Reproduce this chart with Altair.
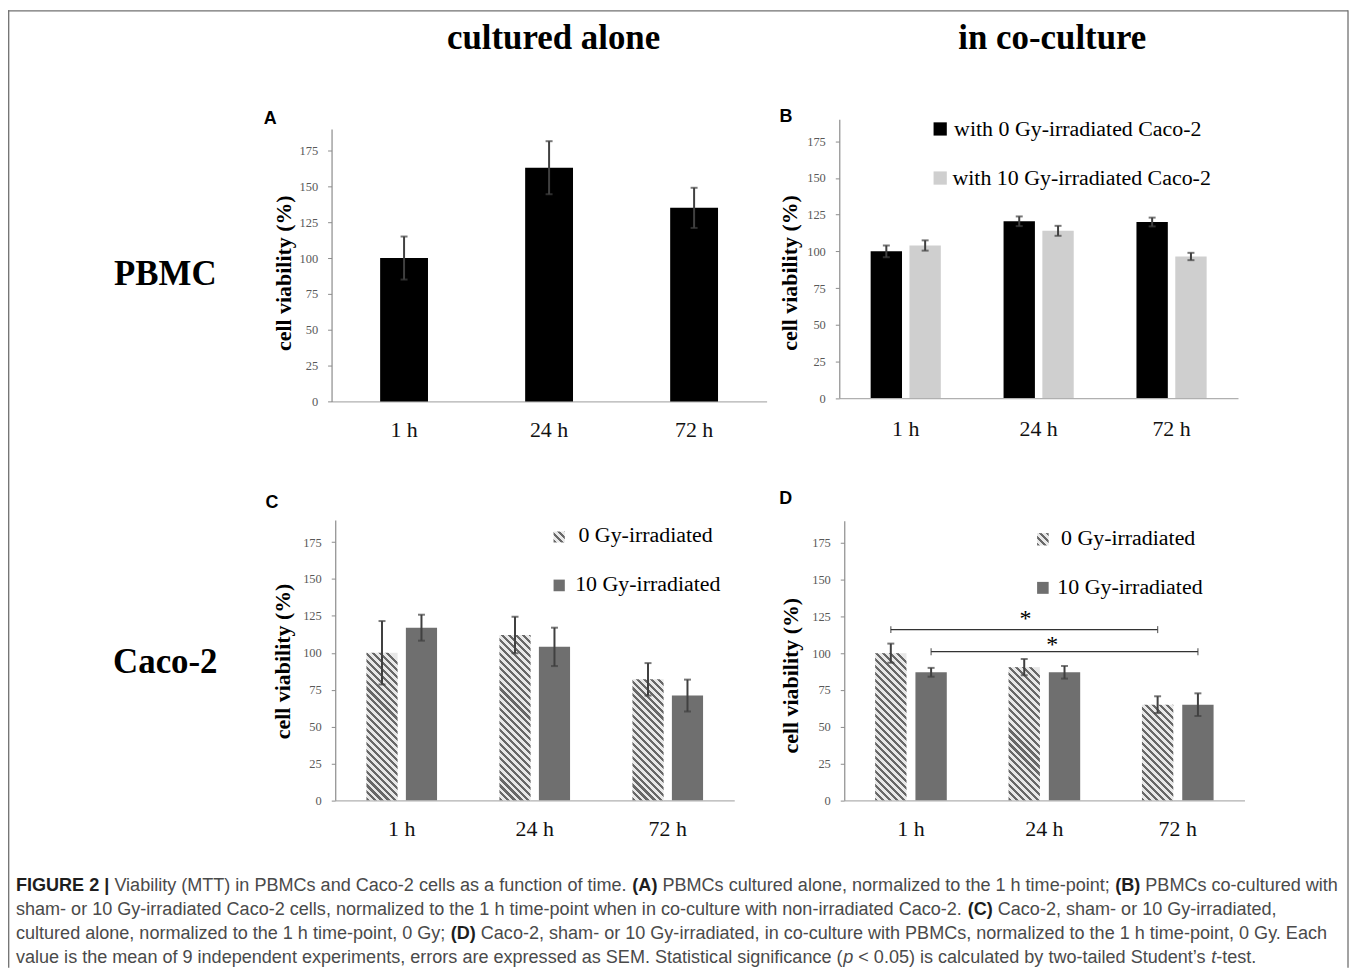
import math
import altair as alt
import pandas as pd

# ---------------- data ----------------
times = ["1 h", "24 h", "72 h"]
groups = ["0 Gy", "10 Gy"]

a_mean = [100, 163, 135]
a_sem = [15, 18.5, 14]

b_0gy = [100, 120.5, 120]
b_0gy_sem = [4, 3.3, 3]
b_10gy = [104, 114, 96.5]
b_10gy_sem = [3.5, 3.4, 2.5]

c_0gy = [100, 112, 82]
c_0gy_sem = [21.5, 12.4, 11]
c_10gy = [117, 104, 71]
c_10gy_sem = [8.8, 13, 10.8]

d_0gy = [100, 90.5, 65]
d_0gy_sem = [6.5, 5.5, 5.7]
d_10gy = [87, 87, 65]
d_10gy_sem = [3, 4.3, 7.7]

sig_group = ["0 Gy", "10 Gy"]
sig_from = ["1 h", "1 h"]
sig_to = ["72 h", "72 h"]
sig_level = [116, 101]
star_level = [125.6, 108]

y_ticks = [0, 25, 50, 75, 100, 125, 150, 175]
Y_MAX = 190

# ---------------- styling ----------------
W, H = 1348, 962
SERIF = "Liberation Serif"
SANS = "Liberation Sans"
ERR = "#404040"
YAX = "#8c8c8c"
XAX = "#b0b0b0"
BLACK = "#000000"
LIGHT = "#cfcfcf"
DARK = "#6f6f6f"
HATCH_LIGHT = "#e8e8e8"
HATCH_DARK = "#686868"
TILE_MULT = 2          # tile height = TILE_MULT * bar width
STRIPES_PER_TILE = 9   # stripes crossing one tile height (4.5 per bar width)

GEOM = {
    "A": dict(xr=[325, 762], y0=393, k=1.44, pi=0.67, op=None, pad=18, tdx=-48.5, ty=263.7),
    "B": dict(xr=[835, 1235.5], y0=389.7, k=1.474, pi=0.472, op=0.192, pad=21, tdx=-50, ty=263.5),
    "C": dict(xr=[328.7, 729.5], y0=793.7, k=1.482, pi=0.469, op=0.21, pad=18, tdx=-53, ty=653.7),
    "D": dict(xr=[840, 1242], y0=793.7, k=1.478, pi=0.463, op=0.222, pad=18, tdx=-54, ty=668),
}


def frame(series):
    rows = []
    for g, means, sems in series:
        for t, m, s in zip(times, means, sems):
            rows.append({"time": t, "group": g, "mean": m, "lo": m - s, "hi": m + s})
    return pd.DataFrame(rows)


def widths(g):
    step = (g["xr"][1] - g["xr"][0]) / len(times)
    gbw = step * (1 - g["pi"])
    if g["op"] is None:
        return gbw, 0.0
    ostep = gbw / (2 - g["op"])
    return ostep * (1 - g["op"]), ostep / 2


def xscale(g):
    return alt.Scale(range=g["xr"], paddingInner=g["pi"], paddingOuter=g["pi"] / 2)


def yscale(g):
    return alt.Scale(domain=[0, Y_MAX], range=[g["y0"], g["y0"] - Y_MAX * g["k"]], nice=False, zero=True)


def x_axis(g):
    return alt.Axis(orient="bottom", offset=g["y0"] - H, ticks=False, tickSize=0,
                    labelPadding=g["pad"], labelFont=SERIF, labelFontSize=22,
                    labelColor="#111111", labelAngle=0, domainColor=XAX,
                    domainWidth=1.2, grid=False, title=None)


def y_axis(g):
    return alt.Axis(orient="left", offset=-g["xr"][0], values=y_ticks, tickSize=4,
                    tickColor=YAX, domainColor=YAX, domainWidth=1.2, labelPadding=10,
                    labelFont=SERIF, labelFontSize=12.5, labelColor="#595959", grid=False,
                    title="cell viability (%)", titleFont=SERIF, titleFontSize=22,
                    titleFontWeight="bold", titleColor="#000000", titleAngle=270,
                    titleX=g["tdx"], titleY=g["ty"], titleAlign="center",
                    titleBaseline="middle")


def x_enc(g, field="time"):
    return alt.X(f"{field}:N", sort=times, title=None, scale=xscale(g), axis=x_axis(g))


def y_enc(g, field="mean"):
    return alt.Y(f"{field}:Q", title="cell viability (%)", scale=yscale(g), axis=y_axis(g))


def xoff(g):
    return alt.XOffset("group:N", sort=groups,
                       scale=alt.Scale(paddingInner=g["op"], paddingOuter=0))


def hatch(w, h, period, frac=0.45):
    # diagonal "\" stripes as a hard-stop linear gradient in bounding-box units,
    # phase anchored at the bottom-left corner of the rectangle
    n = (w * w + h * h) / (w * period)
    stops = []
    i = 0
    while i / n < 1:
        a = i / n
        b = min((i + frac) / n, 1)
        c = min((i + 1) / n, 1)
        stops += [{"offset": a, "color": HATCH_DARK}, {"offset": b, "color": HATCH_DARK},
                  {"offset": b, "color": HATCH_LIGHT}, {"offset": c, "color": HATCH_LIGHT}]
        i += 1
    return {"gradient": "linear", "x1": 0, "y1": 1, "x2": 1, "y2": 1 - h / w, "stops": stops}


def error_layers(df, g, grouped):
    enc = {"x": x_enc(g)}
    if grouped:
        enc["xOffset"] = xoff(g)
    rule = alt.Chart(df).mark_rule(color=ERR, strokeWidth=2).encode(
        y=y_enc(g, "lo"), y2="hi", **enc)
    lo = alt.Chart(df).mark_tick(color=ERR, thickness=2, size=7, orient="horizontal").encode(
        y=y_enc(g, "lo"), **enc)
    hi = alt.Chart(df).mark_tick(color=ERR, thickness=2, size=7, orient="horizontal").encode(
        y=y_enc(g, "hi"), **enc)
    return [rule, lo, hi]


# ---------------- panel A ----------------
gA = GEOM["A"]
df_a = frame([("all", a_mean, a_sem)])
panel_a = alt.layer(
    alt.Chart(df_a).mark_bar(color=BLACK).encode(x=x_enc(gA), y=y_enc(gA)),
    *error_layers(df_a, gA, False),
)


# ---------------- grouped panels ----------------
def hatched_layers(g, means):
    """Hatched bars built as a stack of tiles (each bar still spans 0..mean)."""
    w, _ = widths(g)
    tile_px = TILE_MULT * w
    period = tile_px / STRIPES_PER_TILE
    tile = tile_px / g["k"]      # tile height in data units
    eps_px = 0.7
    eps = eps_px / g["k"]        # small overlap to hide seams
    rows = []
    for t, m in zip(times, means):
        j = 0
        while j * tile < m - 1e-9:
            top = min((j + 1) * tile, m)
            last = top >= m - 1e-9
            rows.append({"time": t, "group": groups[0], "t_lo": j * tile,
                         "t_hi": top if last else top + eps, "last": last,
                         "hpx": (top - j * tile) * g["k"]})
            j += 1
    tiles = pd.DataFrame(rows)
    enc = dict(x=x_enc(g), xOffset=xoff(g), y=y_enc(g, "t_lo"), y2="t_hi")
    out = []
    if (~tiles["last"]).any():
        out.append(alt.Chart(tiles).transform_filter(alt.datum.last == False).mark_bar(
            fill=hatch(w, tile_px + eps_px, period), strokeWidth=0).encode(**enc))
    for t in times:
        hp = float(tiles[(tiles.time == t) & (tiles["last"])]["hpx"].iloc[0])
        out.append(alt.Chart(tiles).transform_filter(
            (alt.datum.last == True) & (alt.datum.time == t)
        ).mark_bar(fill=hatch(w, hp, period), strokeWidth=0).encode(**enc))
    return out


def grouped_panel(key, s0, s0e, s1, s1e, col0, col1, hatched):
    g = GEOM[key]
    df = frame([(groups[0], s0, s0e), (groups[1], s1, s1e)])
    layers = []
    if hatched:
        layers += hatched_layers(g, s0)
    else:
        layers.append(
            alt.Chart(df).transform_filter(alt.datum.group == groups[0]).mark_bar(color=col0).encode(
                x=x_enc(g), y=y_enc(g), xOffset=xoff(g))
        )
    layers.append(
        alt.Chart(df).transform_filter(alt.datum.group == groups[1]).mark_bar(color=col1).encode(
            x=x_enc(g), y=y_enc(g), xOffset=xoff(g))
    )
    layers += error_layers(df, g, True)
    return layers, g


b_layers, gB = grouped_panel("B", b_0gy, b_0gy_sem, b_10gy, b_10gy_sem, BLACK, LIGHT, False)
c_layers, gC = grouped_panel("C", c_0gy, c_0gy_sem, c_10gy, c_10gy_sem, None, DARK, True)
d_layers, gD = grouped_panel("D", d_0gy, d_0gy_sem, d_10gy, d_10gy_sem, None, DARK, True)

# significance brackets in panel D
_, off_d = widths(gD)
for grp, t1, t2, lev, star, sdx in zip(sig_group, sig_from, sig_to, sig_level, star_level, [-19, 8]):
    o = -off_d if grp == groups[0] else off_d
    sdf = pd.DataFrame({"t1": [t1], "t2": [t2], "level": [lev], "star": [star], "mid": ["24 h"]})
    d_layers.append(alt.Chart(sdf).mark_rule(color="#333333", strokeWidth=1.3, xOffset=o, x2Offset=o).encode(
        x=x_enc(gD, "t1"), x2="t2", y=y_enc(gD, "level")))
    for col in ["t1", "t2"]:
        d_layers.append(alt.Chart(sdf).mark_tick(color="#333333", thickness=1.3, size=7,
                                                 orient="vertical", xOffset=o).encode(
            x=x_enc(gD, col), y=y_enc(gD, "level")))
    d_layers.append(alt.Chart(sdf).mark_text(text="*", font=SERIF, fontSize=24, color="#000000",
                                             dx=sdx, dy=11, baseline="alphabetic").encode(
        x=x_enc(gD, "mid"), y=y_enc(gD, "star")))

panel_b = alt.layer(*b_layers)
panel_c = alt.layer(*c_layers)
panel_d = alt.layer(*d_layers)


# ---------------- annotations ----------------
def txt(s, x, y, size, font=SERIF, weight="normal", color="#000000", align="left",
        baseline="alphabetic", style="normal"):
    return alt.Chart(pd.DataFrame({"t": [s]})).mark_text(
        font=font, fontSize=size, fontWeight=weight, color=color, align=align,
        baseline=baseline, fontStyle=style).encode(text="t:N", x=alt.value(x), y=alt.value(y))


def box(x1, x2, y1, y2, fill):
    return alt.Chart(pd.DataFrame({"t": [0]})).mark_rect(fill=fill, strokeWidth=0).encode(
        x=alt.value(x1), x2=alt.value(x2), y=alt.value(y1), y2=alt.value(y2))


ann = [
    txt("cultured alone", 548, 39, 35, weight="bold", align="center"),
    txt("in co-culture", 1049, 39, 35, weight="bold", align="center"),
    txt("PBMC", 158, 276, 35, weight="bold", align="center"),
    txt("Caco-2", 158, 666, 35, weight="bold", align="center"),
    txt("A", 257, 114.7, 18, font=SANS, weight="bold"),
    txt("B", 775, 112, 18, font=SANS, weight="bold"),
    txt("C", 258.7, 500, 18, font=SANS, weight="bold"),
    txt("D", 774.7, 496.3, 18, font=SANS, weight="bold"),
    # legend B
    box(929.7, 943, 112.7, 126, BLACK),
    txt("with 0 Gy-irradiated Caco-2", 950.3, 126, 22),
    box(929.7, 943, 162, 175.3, LIGHT),
    txt("with 10 Gy-irradiated Caco-2", 948.7, 175.3, 22),
    # legend C
    box(548, 559.3, 523.7, 534.7, hatch(11.3, 11, 7.0)),
    txt("0 Gy-irradiated", 573, 534.7, 22),
    box(548, 559.3, 572, 583.7, DARK),
    txt("10 Gy-irradiated", 569.7, 583.7, 22),
    # legend D
    box(1033.7, 1045.3, 525.3, 537.7, hatch(11.6, 12.4, 7.0)),
    txt("0 Gy-irradiated", 1057.7, 537.7, 22),
    box(1033.7, 1045.3, 574.3, 586.3, DARK),
    txt("10 Gy-irradiated", 1054, 586.3, 22),
]

# ---------------- caption (mixed bold / italic runs laid out with Helvetica metrics) ----------------
REG = {" ": 278, "(": 333, ")": 333, ",": 278, "-": 333, ".": 278, ";": 278, "<": 584,
       "\u2019": 222, "|": 260}
REG.update({d: 556 for d in "0123456789"})
REG.update(dict(zip("ABCDEFGHIJKLMNOPQRSTUVWXYZ",
                    [667, 667, 722, 722, 667, 611, 778, 722, 278, 500, 667, 556, 833, 722, 778,
                     667, 778, 722, 667, 611, 722, 667, 944, 667, 667, 611])))
REG.update(dict(zip("abcdefghijklmnopqrstuvwxyz",
                    [556, 556, 500, 556, 556, 278, 556, 556, 222, 222, 500, 222, 833, 556, 556,
                     556, 556, 333, 500, 278, 556, 500, 722, 500, 500, 500])))
BOLD = dict(REG)
BOLD.update({"A": 722, "B": 722, "C": 722, "D": 722, "F": 611, "G": 778, "I": 278, "U": 722,
             "R": 722, "E": 667, "|": 280, "(": 333, ")": 333})

caption = [
    [("b", "FIGURE 2 | "),
     ("r", "Viability (MTT) in PBMCs and Caco-2 cells as a function of time. "),
     ("b", "(A) "),
     ("r", "PBMCs cultured alone, normalized to the 1 h time-point; "),
     ("b", "(B) "),
     ("r", "PBMCs co-cultured with")],
    [("r", "sham- or 10 Gy-irradiated Caco-2 cells, normalized to the 1 h time-point when in co-culture with non-irradiated Caco-2. "),
     ("b", "(C) "),
     ("r", "Caco-2, sham- or 10 Gy-irradiated,")],
    [("r", "cultured alone, normalized to the 1 h time-point, 0 Gy; "),
     ("b", "(D) "),
     ("r", "Caco-2, sham- or 10 Gy-irradiated, in co-culture with PBMCs, normalized to the 1 h time-point, 0 Gy. Each")],
    [("r", "value is the mean of 9 independent experiments, errors are expressed as SEM. Statistical significance ("),
     ("i", "p"),
     ("r", " < 0.05) is calculated by two-tailed Student\u2019s "),
     ("i", "t"),
     ("r", "-test.")],
]


def em(s, table):
    return sum(table.get(ch, 556) for ch in s) / 1000.0


line1_em = sum(em(s, BOLD if k == "b" else REG) for k, s in caption[0])
CAP_SIZE = 1328.0 / line1_em
CAP_COLOR = "#4a4a4a"
CAP_X0 = 8
CAP_Y0 = 885
for li, segs in enumerate(caption):
    x = CAP_X0
    for kind, s in segs:
        table = BOLD if kind == "b" else REG
        lead = len(s) - len(s.lstrip(" "))
        xs = x + em(s[:lead], table) * CAP_SIZE
        ann.append(txt(s.strip(" "), xs, CAP_Y0 + 24 * li, CAP_SIZE, font=SANS,
                       weight="bold" if kind == "b" else "normal",
                       style="italic" if kind == "i" else "normal",
                       color="#1e1e1e" if kind == "b" else CAP_COLOR))
        x += em(s, table) * CAP_SIZE

# frame around the figure (left, top, right)
one = pd.DataFrame({"t": [0]})
border = [
    alt.Chart(one).mark_rule(color="#707070", strokeWidth=1.3).encode(
        x=alt.value(0.7), y=alt.value(0), y2=alt.value(H)),
    alt.Chart(one).mark_rule(color="#707070", strokeWidth=1.3).encode(
        x=alt.value(0), x2=alt.value(1346), y=alt.value(0.7)),
    alt.Chart(one).mark_rule(color="#707070", strokeWidth=1.3).encode(
        x=alt.value(1346), y=alt.value(0), y2=alt.value(H)),
]

chart = alt.layer(
    panel_a, panel_b, panel_c, panel_d, *ann, *border
).resolve_scale(
    x="independent", y="independent", xOffset="independent"
).properties(
    width=W, height=H, padding=0, autosize=alt.AutoSizeParams(type="none"),
    background="white",
).configure_view(stroke=None)

chart.save("out.html", embed_options={"renderer": "svg", "actions": False})
